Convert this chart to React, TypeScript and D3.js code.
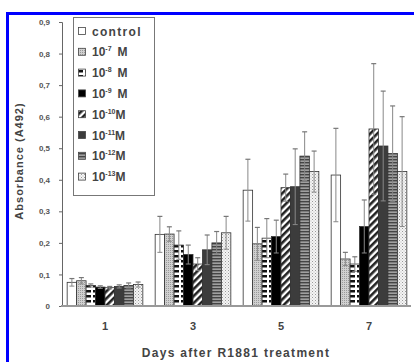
import { useEffect, useRef } from 'react'
import * as d3 from 'd3'

const days = ['1', '3', '5', '7']
const series = ['control', '-7', '-8', '-9', '-10', '-11', '-12', '-13']
const yTicks = [0, 0.1, 0.2, 0.3, 0.4, 0.5, 0.6, 0.7, 0.8, 0.9]

// mean absorbance per series, one entry per day
const means = [
  [0.075, 0.227, 0.367, 0.415],
  [0.08, 0.228, 0.197, 0.149],
  [0.065, 0.193, 0.215, 0.133],
  [0.06, 0.163, 0.22, 0.252],
  [0.058, 0.133, 0.375, 0.561],
  [0.062, 0.178, 0.378, 0.507],
  [0.065, 0.2, 0.475, 0.483],
  [0.068, 0.232, 0.426, 0.426],
]
const errors = [
  [0.012, 0.057, 0.098, 0.148],
  [0.01, 0.023, 0.052, 0.021],
  [0.005, 0.045, 0.062, 0.023],
  [0.004, 0.03, 0.052, 0.084],
  [0.004, 0.02, 0.043, 0.207],
  [0.005, 0.047, 0.12, 0.174],
  [0.008, 0.036, 0.077, 0.151],
  [0.008, 0.052, 0.065, 0.174],
]

const fills = ['#ffffff', 'url(#p7)', 'url(#p8)', '#000000', 'url(#p10)', '#3c3c3c', 'url(#p12)', 'url(#p13)']

export default function App() {
  const svgRef = useRef<SVGSVGElement>(null)

  useEffect(() => {
    const W = 414
    const H = 362
    const svg = d3.select(svgRef.current)
    svg.selectAll('*').remove()
    svg.attr('width', W).attr('height', H)

    const font = '"Liberation Sans", Arial, sans-serif'
    const defs = svg.append('defs')

    const p7 = defs.append('pattern').attr('id', 'p7').attr('width', 2).attr('height', 2).attr('patternUnits', 'userSpaceOnUse')
    p7.append('rect').attr('width', 2).attr('height', 2).attr('fill', '#d0d0d0')
    p7.append('rect').attr('width', 1).attr('height', 1).attr('fill', '#9a9a9a')

    const p8 = defs.append('pattern').attr('id', 'p8').attr('width', 8).attr('height', 5).attr('patternUnits', 'userSpaceOnUse')
    p8.append('rect').attr('width', 8).attr('height', 5).attr('fill', '#fff')
    p8.append('rect').attr('x', 0).attr('y', 0).attr('width', 3).attr('height', 2.5).attr('fill', '#111')
    p8.append('rect').attr('x', 5).attr('y', 0).attr('width', 3).attr('height', 2.5).attr('fill', '#111')

    const p10 = defs.append('pattern').attr('id', 'p10').attr('width', 5).attr('height', 5)
      .attr('patternUnits', 'userSpaceOnUse').attr('patternTransform', 'rotate(45)')
    p10.append('rect').attr('width', 5).attr('height', 5).attr('fill', '#fff')
    p10.append('rect').attr('width', 2.6).attr('height', 5).attr('fill', '#222')

    const p12 = defs.append('pattern').attr('id', 'p12').attr('width', 4).attr('height', 3).attr('patternUnits', 'userSpaceOnUse')
    p12.append('rect').attr('width', 4).attr('height', 3).attr('fill', '#a0a0a0')
    p12.append('rect').attr('width', 4).attr('height', 1.4).attr('fill', '#454545')

    const p13 = defs.append('pattern').attr('id', 'p13').attr('width', 3).attr('height', 3).attr('patternUnits', 'userSpaceOnUse')
    p13.append('rect').attr('width', 3).attr('height', 3).attr('fill', '#f4f4f4')
    p13.append('rect').attr('width', 1).attr('height', 1).attr('fill', '#999')
    p13.append('rect').attr('x', 1.5).attr('y', 1.5).attr('width', 1).attr('height', 1).attr('fill', '#bbb')

    svg.append('rect').attr('width', W).attr('height', H).attr('fill', '#fff')
    // blue frame (only top and left edges fall inside the view)
    svg.append('rect').attr('x', 7.5).attr('y', 13.5).attr('width', 600).attr('height', 600)
      .attr('fill', 'none').attr('stroke', '#0000ff').attr('stroke-width', 3)

    const x0 = d3.scaleBand().domain(days).range([61, 413]).paddingInner(0.14).paddingOuter(0.07)
    const x1 = d3.scaleBand().domain(series).range([0, x0.bandwidth()])
    const y = d3.scaleLinear().domain([0, 0.9]).range([306, 22])

    // y axis
    const ya = svg.append('g').attr('transform', 'translate(62,0)')
      .call(d3.axisLeft(y).tickValues(yTicks).tickSize(3).tickPadding(9)
        .tickFormat((d) => (+d === 0 ? '0' : d3.format('.1f')(+d).replace('.', ','))))
    ya.select('.domain').attr('stroke', '#666')
    ya.selectAll('.tick line').attr('stroke', '#666')
    ya.selectAll('text').attr('fill', '#555').attr('font-size', 8).attr('font-weight', 'bold').attr('font-family', font)

    // bars
    series.forEach((s, i) => {
      const g = svg.append('g')
      const rows = days.map((d, j) => ({ day: d, v: means[i][j], e: errors[i][j] }))
      g.selectAll('rect')
        .data(rows)
        .join('rect')
        .attr('x', (d) => x0(d.day)! + x1(s)!)
        .attr('y', (d) => y(d.v))
        .attr('width', x1.bandwidth())
        .attr('height', (d) => y(0) - y(d.v))
        .attr('fill', fills[i])
        .attr('stroke', '#333')
        .attr('stroke-width', 0.8)

      const eb = g.selectAll('.eb').data(rows).join('g')
      const cx = (d: { day: string }) => x0(d.day)! + x1(s)! + x1.bandwidth() / 2
      eb.append('line')
        .attr('x1', cx).attr('x2', cx)
        .attr('y1', (d) => y(d.v - d.e)).attr('y2', (d) => y(d.v + d.e))
        .attr('stroke', '#888').attr('stroke-width', 1)
      eb.append('line')
        .attr('x1', (d) => cx(d) - 2.5).attr('x2', (d) => cx(d) + 2.5)
        .attr('y1', (d) => y(d.v + d.e)).attr('y2', (d) => y(d.v + d.e))
        .attr('stroke', '#777').attr('stroke-width', 1.2)
      eb.append('line')
        .attr('x1', (d) => cx(d) - 2.5).attr('x2', (d) => cx(d) + 2.5)
        .attr('y1', (d) => y(d.v - d.e)).attr('y2', (d) => y(d.v - d.e))
        .attr('stroke', '#888').attr('stroke-width', 1)
    })

    // x axis
    const xa = svg.append('g').attr('transform', `translate(0,${y(0)})`)
      .call(d3.axisBottom(x0).tickSize(0).tickPadding(16))
    xa.select('.domain').attr('stroke', '#999').attr('stroke-width', 2).attr('d', 'M61,0H411')
    xa.selectAll('text').attr('fill', '#444').attr('font-size', 11).attr('font-weight', 'bold').attr('font-family', font)

    svg.append('text')
      .attr('x', 236).attr('y', 357).attr('text-anchor', 'middle')
      .attr('font-family', font).attr('font-size', 12).attr('font-weight', 'bold')
      .attr('fill', '#444').attr('letter-spacing', 1.3)
      .text('Days after R1881 treatment')

    svg.append('text')
      .attr('transform', 'translate(23,161) rotate(-90)').attr('text-anchor', 'middle')
      .attr('font-family', font).attr('font-size', 11).attr('font-weight', 'bold')
      .attr('fill', '#444').attr('letter-spacing', 1)
      .text('Absorbance (A492)')

    // legend
    const lg = svg.append('g')
    lg.append('rect').attr('x', 73.5).attr('y', 17.5).attr('width', 81).attr('height', 178)
      .attr('fill', '#fff').attr('stroke', '#777').attr('stroke-width', 1)
    series.forEach((s, i) => {
      const cy = 31 + i * 20.8
      lg.append('rect').attr('x', 78.5).attr('y', cy - 3.5).attr('width', 7).attr('height', 7)
        .attr('fill', fills[i]).attr('stroke', '#444').attr('stroke-width', 0.8)
      const t = lg.append('text').attr('x', 92).attr('y', cy + 4.5)
        .attr('font-family', font).attr('font-size', 12).attr('font-weight', 'bold').attr('fill', '#444')
      if (s === 'control') {
        t.attr('letter-spacing', 1.3).text('control')
      } else {
        t.append('tspan').text('10')
        t.append('tspan').attr('dy', -5).attr('font-size', 7).text(s)
        t.append('tspan').attr('dy', 5).attr('dx', s.length > 2 ? 0 : 6).text('M')
      }
    })
  }, [])

  return (
    <div style={{ position: 'absolute', left: 0, top: 0 }}>
      <svg ref={svgRef} style={{ display: 'block' }} />
    </div>
  )
}
